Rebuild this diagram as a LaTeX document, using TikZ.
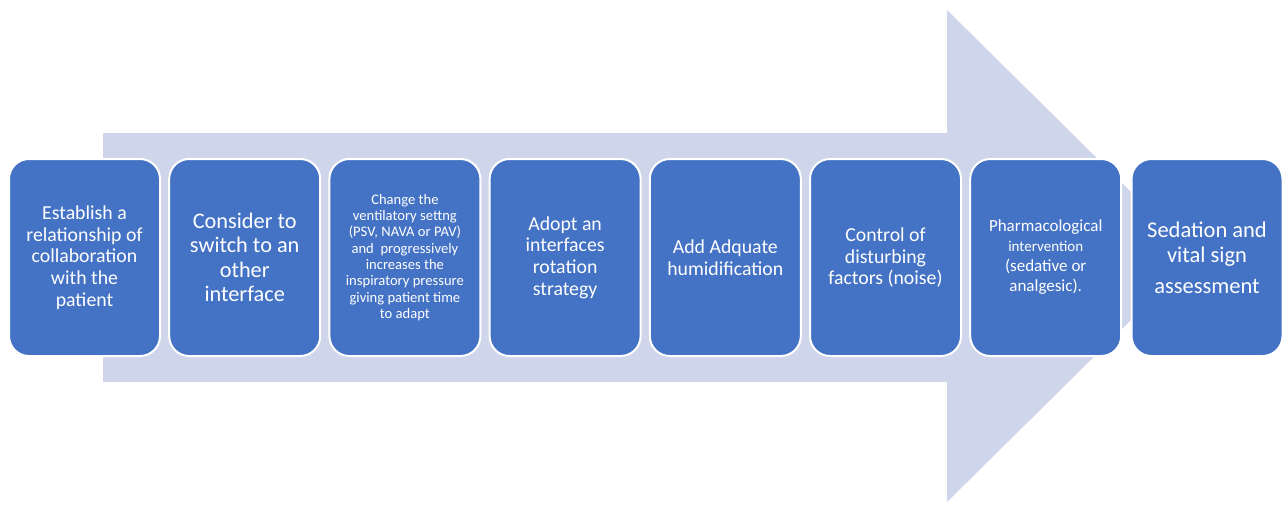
\documentclass[tikz,border=0pt]{standalone}
\usepackage{fontspec}
\setmainfont{Carlito}
\usepackage{tikz}
\usepackage{xcolor}
\usetikzlibrary{shapes, calc, positioning}
\definecolor{stepblue}{rgb}{0.267, 0.447, 0.769}
\definecolor{arrowlilac}{rgb}{0.812, 0.835, 0.918}
\tikzset{stepbox/.style={draw=white, line width=2pt, fill=stepblue, rounded corners=20pt, minimum width=151pt, minimum height=197pt, inner sep=2pt, align=center, text=white, font=\fontsize{19.8}{21.7}\selectfont}}
\tikzset{stepboxm/.style={stepbox, font=\fontsize{22.3}{24.5}\selectfont}}
\tikzset{stepboxs/.style={stepbox, font=\fontsize{14.6}{16.3}\selectfont}}
\tikzset{stepboxp/.style={stepbox, font=\fontsize{17}{20}\selectfont}}
\tikzset{stepboxl/.style={stepbox, font=\fontsize{22.5}{25}\selectfont}}
\tikzset{bigarrow/.style={fill=arrowlilac, draw=none}}

\begin{document}
\begin{tikzpicture}[x=1pt, y=-1pt]
            \useasboundingbox (0, 0) rectangle (1287, 504);

            \fill [bigarrow] (103, 133) -- (947, 133) -- (947, 10) -- (1196, 256)
                -- (947, 502) -- (947, 382) -- (103, 382) -- cycle;

            \node [stepbox] (Step1) at (84.5, 257.5) { Establish a\\ relationship of\\ collaboration\\ with the\\ patient };
            \node [stepboxm] (Step2) at (244.7, 257.5) { Consider to\\ switch to an\\ other\\ interface };
            \node [stepboxs] (Step3) at (404.9, 257.5) { Change the\\ ventilatory settng\\ (PSV, NAVA or PAV)\\ and~ progressively\\ increases the\\ inspiratory pressure\\ giving patient time\\ to adapt };
            \node [stepbox] (Step4) at (565.1, 257.5) { Adopt an\\ interfaces\\ rotation\\ strategy };
            \node [stepbox] (Step5) at (725.3, 257.5) { Add Adquate\\ humidification };
            \node [stepbox] (Step6) at (885.5, 257.5) { Control of\\ disturbing\\ factors (noise) };
            \node [stepboxp] (Step7) at (1045.7, 257.5) { Pharmacological\\ {\fontsize{15}{20}\selectfont intervention}\\ (sedative or\\ analgesic). };
            \node [stepboxl] (Step8) at (1207, 257.5) { Sedation and\\ vital sign\\[6pt] assessment };
        \end{tikzpicture}
\end{document}
